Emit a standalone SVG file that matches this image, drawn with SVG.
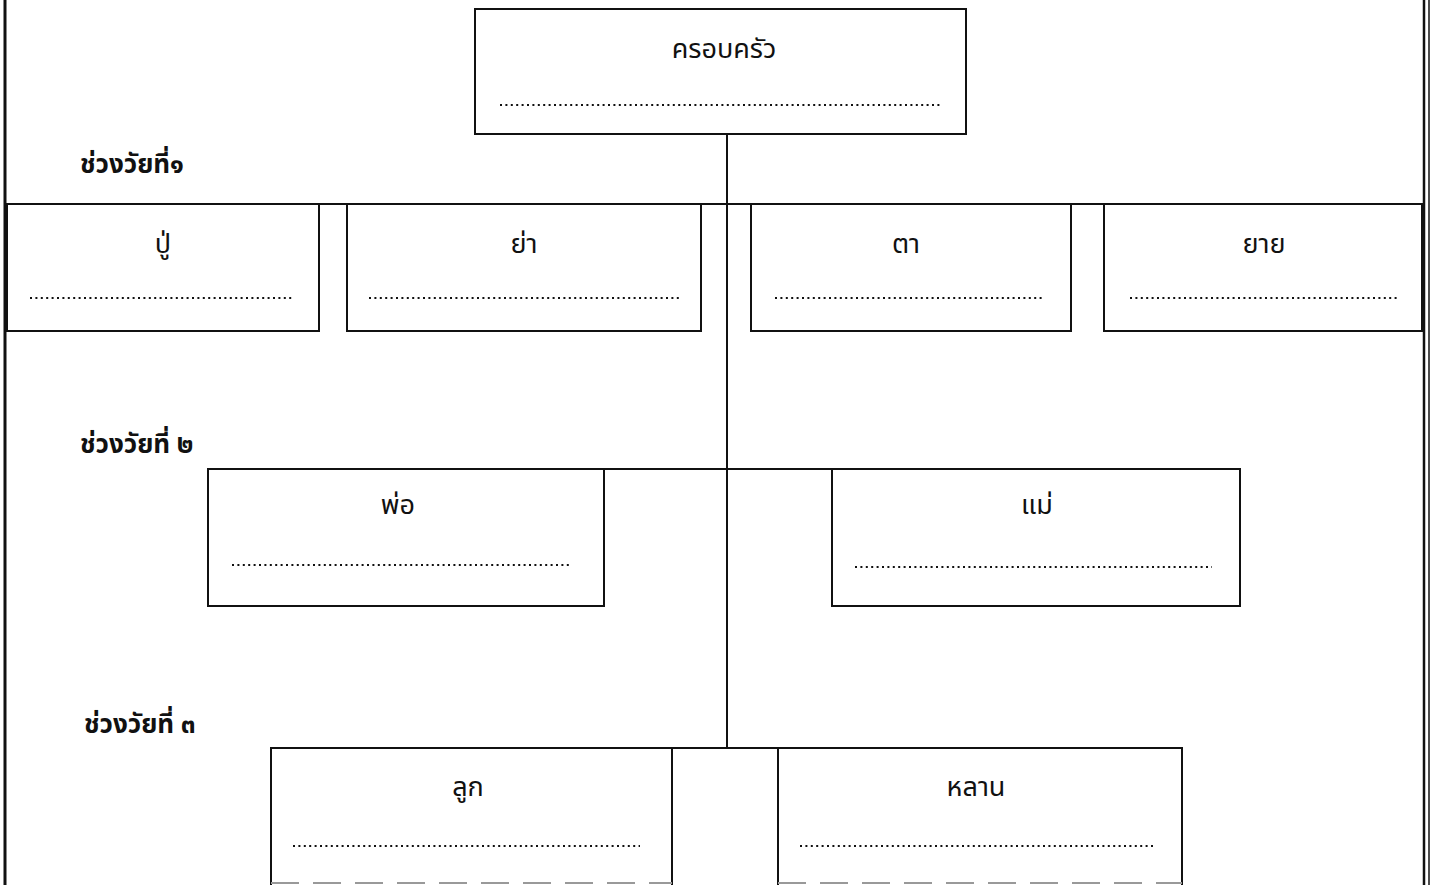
<svg xmlns="http://www.w3.org/2000/svg" width="1433" height="885" viewBox="0 0 1433 885">
<style>
.box{fill:#fff;stroke:#111;stroke-width:2}
.dots{stroke:#111;stroke-width:2;stroke-dasharray:2 3.4;fill:none}
.t{font-family:"Noto Sans Thai","Noto Sans","DejaVu Sans",sans-serif;font-size:27px;fill:#111;text-anchor:middle}
.lbl{font-family:"Noto Sans Thai","Noto Serif Thai","Liberation Serif",serif;font-size:26px;font-weight:bold;fill:#111}
.ln{stroke:#111;stroke-width:2;fill:none}
</style>
<rect width="1433" height="885" fill="#fff"/>
<g id="frame">
<line x1="5" y1="0" x2="5" y2="885" stroke="#111" stroke-width="3"/>
<line x1="1424" y1="0" x2="1424" y2="885" stroke="#111" stroke-width="2.5"/>
<line x1="1429" y1="0" x2="1429" y2="885" stroke="#111" stroke-width="1.5"/>
</g>
<g id="connectors">
<line class="ln" x1="727" y1="134" x2="727" y2="748"/>
<line class="ln" x1="5" y1="204" x2="1424" y2="204"/>
<line class="ln" x1="208" y1="469" x2="1240" y2="469"/>
<line class="ln" x1="271" y1="748" x2="1182" y2="748"/>
</g>
<g id="labels">
<text class="lbl" x="80" y="173">ช่วงวัยที่๑</text>
<text class="lbl" x="80" y="453">ช่วงวัยที่ ๒</text>
<text class="lbl" x="84" y="733">ช่วงวัยที่ ๓</text>
</g>
<g id="n-family">
<rect class="box" x="475" y="9" width="491" height="125"/>
<text class="t" x="724" y="58">ครอบครัว</text>
<line class="dots" x1="500" y1="105" x2="942" y2="105"/>
</g>
<g id="n-pu">
<rect class="box" x="7" y="204" width="312" height="127"/>
<text class="t" x="163" y="253">ปู่</text>
<line class="dots" x1="30" y1="298" x2="293" y2="298"/>
</g>
<g id="n-ya">
<rect class="box" x="347" y="204" width="354" height="127"/>
<text class="t" x="524" y="253">ย่า</text>
<line class="dots" x1="369" y1="298" x2="679" y2="298"/>
</g>
<g id="n-ta">
<rect class="box" x="751" y="204" width="320" height="127"/>
<text class="t" x="906" y="253">ตา</text>
<line class="dots" x1="775" y1="298" x2="1045" y2="298"/>
</g>
<g id="n-yai">
<rect class="box" x="1104" y="204" width="318" height="127"/>
<text class="t" x="1264" y="253">ยาย</text>
<line class="dots" x1="1130" y1="298" x2="1398" y2="298"/>
</g>
<g id="n-father">
<rect class="box" x="208" y="469" width="396" height="137"/>
<text class="t" x="398" y="514">พ่อ</text>
<line class="dots" x1="232" y1="565" x2="571" y2="565"/>
</g>
<g id="n-mother">
<rect class="box" x="832" y="469" width="408" height="137"/>
<text class="t" x="1037" y="514">แม่</text>
<line class="dots" x1="855" y1="567" x2="1212" y2="567"/>
</g>
<g id="n-child">
<path class="ln" d="M271 885 V748 H672 V885"/>
<line x1="271" y1="883" x2="672" y2="883" stroke="#999" stroke-width="2" stroke-dasharray="28 14"/>
<text class="t" x="468" y="796">ลูก</text>
<line class="dots" x1="293" y1="846" x2="640" y2="846"/>
</g>
<g id="n-grandchild">
<path class="ln" d="M778 885 V748 H1182 V885"/>
<line x1="778" y1="883" x2="1182" y2="883" stroke="#999" stroke-width="2" stroke-dasharray="28 14"/>
<text class="t" x="976" y="796">หลาน</text>
<line class="dots" x1="800" y1="846" x2="1154" y2="846"/>
</g>
</svg>
